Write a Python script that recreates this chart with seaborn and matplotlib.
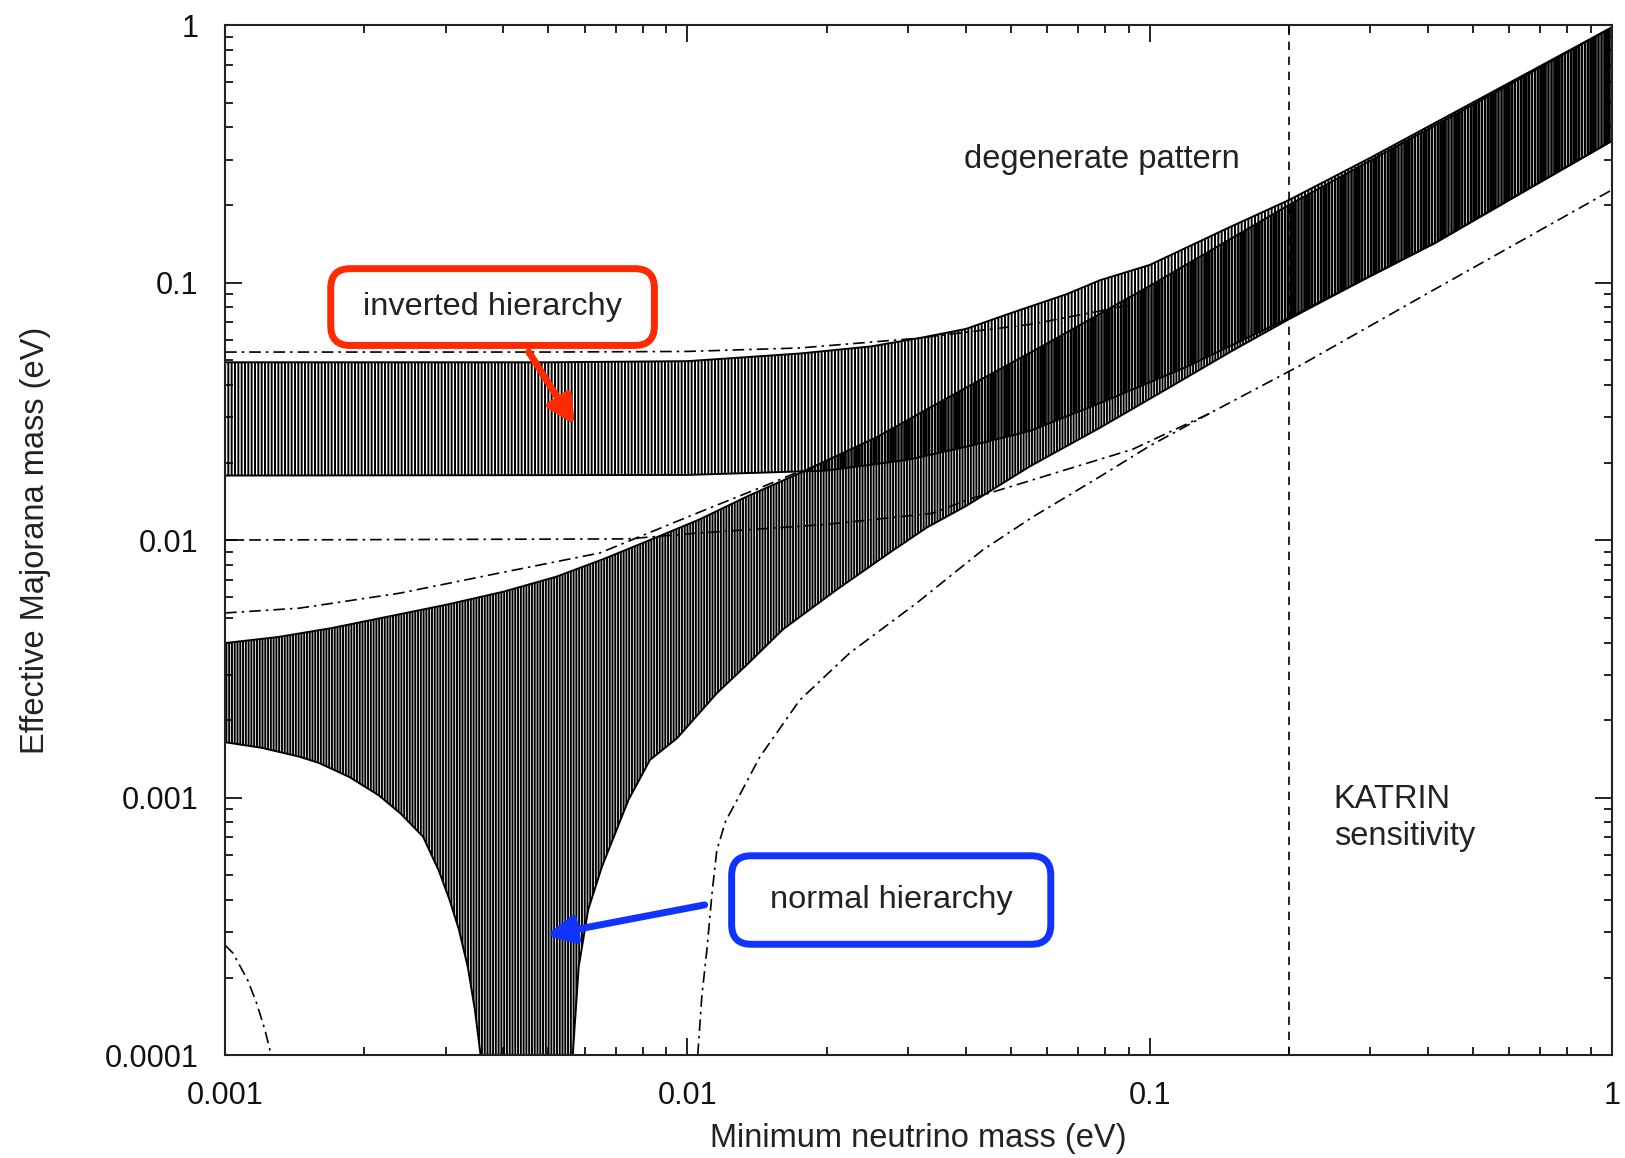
import numpy as np
import matplotlib
matplotlib.use("Agg")
import matplotlib.pyplot as plt
import seaborn as sns
from matplotlib.ticker import LogLocator, NullFormatter

sns.set_style("ticks")
plt.rcParams['font.family'] = ['Liberation Sans', 'DejaVu Sans']
plt.rcParams['hatch.linewidth'] = 1.4

# --- normal hierarchy band ---
nh_up_m = [0.001, 0.0013, 0.0017, 0.0022, 0.003, 0.004, 0.0052, 0.0066, 0.0083,
           0.0106, 0.0135, 0.0175, 0.0257, 0.04, 0.06, 0.1, 0.2, 0.5, 1.0]
nh_up = [0.00398, 0.0042, 0.00455, 0.005, 0.0056, 0.0063, 0.0072, 0.00845, 0.0100,
         0.0120, 0.0148, 0.0182, 0.0251, 0.039, 0.058, 0.097, 0.2, 0.49, 0.98]
nh_low_m = [0.001, 0.0012, 0.00145, 0.0016, 0.00186, 0.00215, 0.0024, 0.00268,
            0.0029, 0.00306, 0.0032, 0.00335, 0.00347, 0.00357,
            0.00565, 0.00582, 0.0061, 0.00653, 0.00746, 0.0083, 0.0095, 0.0116,
            0.0135, 0.0161, 0.021, 0.0278, 0.033, 0.0402, 0.055, 0.0778, 0.11,
            0.15, 0.2, 0.3, 0.413, 0.6, 1.0]
nh_low = [0.00164, 0.00156, 0.00144, 0.00136, 0.0012, 0.00102, 0.000865, 0.000705,
          0.00052, 0.0004, 0.00031, 0.00022, 0.00015, 0.0001,
          0.0001, 0.00022, 0.000366, 0.000537, 0.00098, 0.0014, 0.0017, 0.00255,
          0.0033, 0.0045, 0.0064, 0.0091, 0.0112, 0.0136, 0.0193, 0.0272, 0.039,
          0.054, 0.072, 0.106, 0.142, 0.21, 0.355]

# --- inverted hierarchy band ---
ih_up_m = [0.001, 0.005, 0.01, 0.0175, 0.025, 0.032, 0.04, 0.05, 0.066, 0.078,
           0.1, 0.15, 0.2, 0.3, 0.5, 1.0]
ih_up = [0.049, 0.049, 0.0495, 0.053, 0.0565, 0.061, 0.066, 0.076, 0.09, 0.102,
         0.117, 0.165, 0.209, 0.305, 0.50, 0.98]
ih_low_m = [0.001, 0.01, 0.02, 0.03, 0.04, 0.055, 0.078, 0.12, 0.2, 0.413, 1.0]
ih_low = [0.0178, 0.0179, 0.0186, 0.0205, 0.023, 0.0265, 0.034, 0.047, 0.0728, 0.142, 0.355]

# --- dash-dotted curves ---
ih_up3_m = [0.001, 0.005, 0.01, 0.0175, 0.0313, 0.0559, 0.0914]
ih_up3 = [0.0537, 0.0537, 0.054, 0.0557, 0.0607, 0.069, 0.082]
ih_low3_m = [0.001, 0.0074, 0.01064, 0.02, 0.0339, 0.0402, 0.0918, 0.1346, 0.211, 0.4, 1.0]
ih_low3 = [0.0100, 0.0101, 0.01065, 0.0115, 0.0127, 0.0143, 0.0225, 0.031, 0.0475, 0.091, 0.229]
nh_up3_m = [0.001, 0.00145, 0.00239, 0.00393, 0.00647, 0.01064, 0.01486, 0.0175]
nh_up3 = [0.00521, 0.00544, 0.00622, 0.00745, 0.00891, 0.01285, 0.01636, 0.0185]
nh_low3r_m = [0.01053, 0.01075, 0.01102, 0.0113, 0.01158, 0.0121, 0.0128, 0.01434, 0.0175,
              0.02244, 0.03133, 0.0435, 0.0558, 0.0778, 0.1, 0.1346]
nh_low3r = [0.0001, 0.00017, 0.000256, 0.00042, 0.000625, 0.00081, 0.000977, 0.001436,
            0.00239, 0.00364, 0.00569, 0.00914, 0.01228, 0.01757, 0.0232, 0.031]
nh_low3l_m = [0.001, 0.00104, 0.00112, 0.00117, 0.00122, 0.00125, 0.00126]
nh_low3l = [0.000267, 0.000249, 0.000195, 0.000159, 0.000125, 0.000105, 0.0001]

katrin_m = 0.2

fig = plt.figure(figsize=(16.25, 11.58), dpi=100)
ax = fig.add_axes([0.1385, 0.0889, 0.8535, 0.8895])
ax.set_xscale('log')
ax.set_yscale('log')
ax.set_xlim(1e-3, 1)
ax.set_ylim(1e-4, 1)

# hatched bands
ax.fill(np.r_[nh_up_m, nh_low_m[::-1]], np.r_[nh_up, nh_low[::-1]],
        facecolor='none', edgecolor='black', hatch='||||||', lw=1.4)
ax.fill(np.r_[ih_up_m, ih_low_m[::-1]], np.r_[ih_up, ih_low[::-1]],
        facecolor='none', edgecolor='black', hatch='|||||', lw=1.4)

dd = (0, (7, 3, 1.5, 3))
for xs, ys in [(ih_up3_m, ih_up3), (ih_low3_m, ih_low3), (nh_up3_m, nh_up3),
               (nh_low3r_m, nh_low3r), (nh_low3l_m, nh_low3l)]:
    sns.lineplot(x=xs, y=ys, ax=ax, color='black', lw=1.2, linestyle=dd,
                 sort=False, estimator=None)

ax.axvline(katrin_m, color='black', lw=1.2, linestyle=(0, (5, 4)))

# text
ax.text(0.079, 0.30, 'degenerate pattern', fontsize=23.5, ha='center', va='center', color='#222222')
ax.text(0.25, 0.00083, 'KATRIN\nsensitivity', fontsize=23.5, ha='left', va='center',
        color='#222222', linespacing=1.25)

red = '#ff2a00'
blue = '#1133ff'
ax.annotate('', xy=(0.00571, 0.028), xytext=(0.00454, 0.0537),
            arrowprops=dict(arrowstyle='-|>', color=red, lw=5, mutation_scale=40,
                            shrinkA=0, shrinkB=0))
ax.text(0.00379, 0.0803, ' inverted hierarchy ', fontsize=23.4, ha='center', va='center',
        color='#222222',
        bbox=dict(boxstyle='round,pad=0.72,rounding_size=0.6', fc='white', ec=red, lw=5))
ax.annotate('', xy=(0.00495, 0.000292), xytext=(0.0109, 0.000383),
            arrowprops=dict(arrowstyle='-|>', color=blue, lw=5, mutation_scale=40,
                            shrinkA=0, shrinkB=0))
ax.text(0.0276, 0.0004, ' normal hierarchy ', fontsize=23.4, ha='center', va='center',
        color='#222222',
        bbox=dict(boxstyle='round,pad=0.9,rounding_size=0.6', fc='white', ec=blue, lw=5))

# axes styling
ax.set_xticks([0.001, 0.01, 0.1, 1], labels=['0.001', '0.01', '0.1', '1'])
ax.set_yticks([0.0001, 0.001, 0.01, 0.1, 1], labels=['0.0001', '0.001', '0.01', '0.1', '1'])
for axis in (ax.xaxis, ax.yaxis):
    axis.set_minor_locator(LogLocator(base=10, subs=np.arange(2, 10)))
    axis.set_minor_formatter(NullFormatter())
ax.tick_params(which='both', direction='in', top=True, right=True, width=1.3,
               labelsize=22, pad=19, colors='#111111')
ax.tick_params(which='major', length=12)
ax.tick_params(which='minor', length=6)
for s in ax.spines.values():
    s.set_linewidth(1.5)
    s.set_color('#222222')

ax.set_xlabel('Minimum neutrino mass (eV)', fontsize=23.5, color='#222222', labelpad=8)
ax.set_ylabel('Effective Majorana mass (eV)', fontsize=23.5, color='#222222', labelpad=39)

fig.savefig('out.png', dpi=100)
